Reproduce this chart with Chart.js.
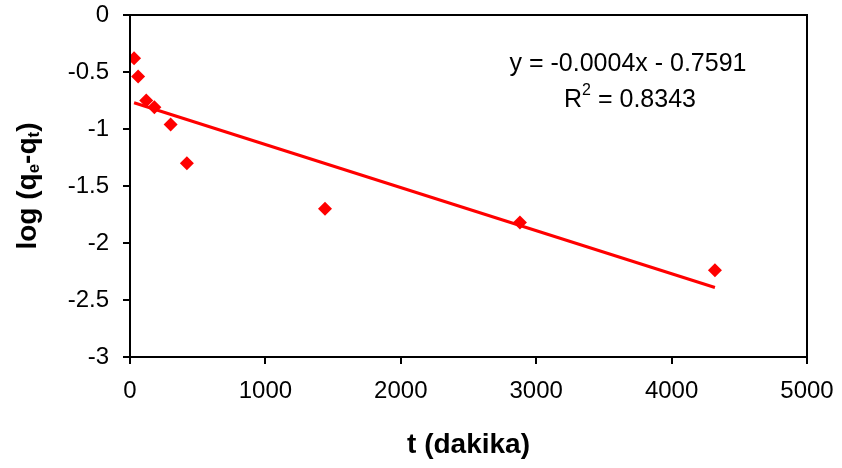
<!DOCTYPE html>
<html>
<head>
<meta charset="utf-8">
<script src="https://cdn.jsdelivr.net/npm/chart.js@4"></script>
<style>
  html, body { margin: 0; padding: 0; background: #fff; }
  #wrap { width: 842px; height: 468px; }
</style>
</head>
<body>
<div id="wrap"><canvas id="chart" width="842" height="468"></canvas></div>
<script>
// time (min) vs log(qe - qt)
const timeMin = [30, 60, 120, 180, 300, 420, 1440, 2880, 4320];
const logQ = [-0.38, -0.54, -0.75, -0.81, -0.96, -1.3, -1.7, -1.82, -2.24];
// fitted trend line as drawn
const trendX = [30, 4320];
const trendY = [-0.77, -2.39];
const xTicks = [0, 1000, 2000, 3000, 4000, 5000];
const yTicks = [0, -0.5, -1, -1.5, -2, -2.5, -3];
const eqText = "y = -0.0004x - 0.7591";
const r2Text = " = 0.8343";

const FONT = "'Liberation Sans', Arial, sans-serif";
const RED = "#ff0000";

const pts = timeMin.map((t, i) => ({ x: t, y: logQ[i] }));
const trend = trendX.map((t, i) => ({ x: t, y: trendY[i] }));

// draws the frame, axis titles (with sub/superscripts) and the equation
const extras = {
  id: "extras",
  afterDraw: (chart) => {
    const { ctx, chartArea: { left, right, top, bottom } } = chart;
    ctx.save();
    ctx.strokeStyle = "#000";
    ctx.lineWidth = 2;
    ctx.strokeRect(left, top, right - left, bottom - top);

    ctx.fillStyle = "#000";
    ctx.textBaseline = "middle";

    // x title
    ctx.font = `bold 28px ${FONT}`;
    ctx.textAlign = "center";
    ctx.fillText("t (dakika)", (left + right) / 2, 445);

    // y title: log (qe-qt)
    const parts = [
      ["log (q", 28, 0],
      ["e", 17, 6],
      ["-q", 28, 0],
      ["t", 17, 6],
      [")", 28, 0],
    ];
    let total = 0;
    parts.forEach((p) => {
      ctx.font = `bold ${p[1]}px ${FONT}`;
      total += ctx.measureText(p[0]).width;
    });
    ctx.translate(28, (top + bottom) / 2);
    ctx.rotate(-Math.PI / 2);
    ctx.textAlign = "left";
    let cx = -total / 2;
    parts.forEach((p) => {
      ctx.font = `bold ${p[1]}px ${FONT}`;
      ctx.fillText(p[0], cx, p[2]);
      cx += ctx.measureText(p[0]).width;
    });
    ctx.setTransform(1, 0, 0, 1, 0, 0);

    // equation + R^2
    ctx.font = `25px ${FONT}`;
    ctx.textAlign = "center";
    ctx.fillText(eqText, 628, 64);
    const wR = ctx.measureText("R").width;
    const wEq = ctx.measureText(r2Text).width;
    ctx.font = `16px ${FONT}`;
    const w2 = ctx.measureText("2").width;
    let sx = 630 - (wR + w2 + wEq) / 2;
    ctx.textAlign = "left";
    ctx.font = `25px ${FONT}`;
    ctx.fillText("R", sx, 100);
    ctx.font = `16px ${FONT}`;
    ctx.fillText("2", sx + wR, 91);
    ctx.font = `25px ${FONT}`;
    ctx.fillText(r2Text, sx + wR + w2, 100);
    ctx.restore();
  },
};

new Chart(document.getElementById("chart"), {
  type: "scatter",
  data: {
    datasets: [
      {
        data: pts,
        pointStyle: "rectRot",
        pointRadius: 7,
        backgroundColor: RED,
        borderColor: RED,
        borderWidth: 0,
      },
      {
        type: "line",
        data: trend,
        borderColor: RED,
        borderWidth: 3,
        pointRadius: 0,
        fill: false,
      },
    ],
  },
  options: {
    responsive: false,
    animation: false,
    layout: { padding: { top: 15, right: 35, left: 0, bottom: 0 } },
    plugins: { legend: { display: false }, tooltip: { enabled: false } },
    scales: {
      x: {
        type: "linear",
        min: 0,
        max: 5000,
        afterBuildTicks: (s) => { s.ticks = xTicks.map((v) => ({ value: v })); },
        afterFit: (s) => {
          s.height = 111;
          s.paddingLeft = 0;
          s.paddingRight = 0;
        },
        grid: { drawOnChartArea: false, color: "#000", lineWidth: 2, tickLength: 7 },
        border: { color: "#000", width: 2 },
        ticks: {
          color: "#000",
          padding: 13,
          font: { family: FONT, size: 24 },
          callback: (v) => String(v),
        },
      },
      y: {
        min: -3,
        max: 0,
        afterBuildTicks: (s) => { s.ticks = yTicks.map((v) => ({ value: v })); },
        afterFit: (s) => {
          s.width = 130;
          s.paddingTop = 0;
          s.paddingBottom = 0;
        },
        grid: { drawOnChartArea: false, color: "#000", lineWidth: 2, tickLength: 7 },
        border: { color: "#000", width: 2 },
        ticks: {
          color: "#000",
          padding: 14,
          font: { family: FONT, size: 24 },
          callback: (v) => String(v),
        },
      },
    },
  },
  plugins: [extras],
});
</script>
</body>
</html>
